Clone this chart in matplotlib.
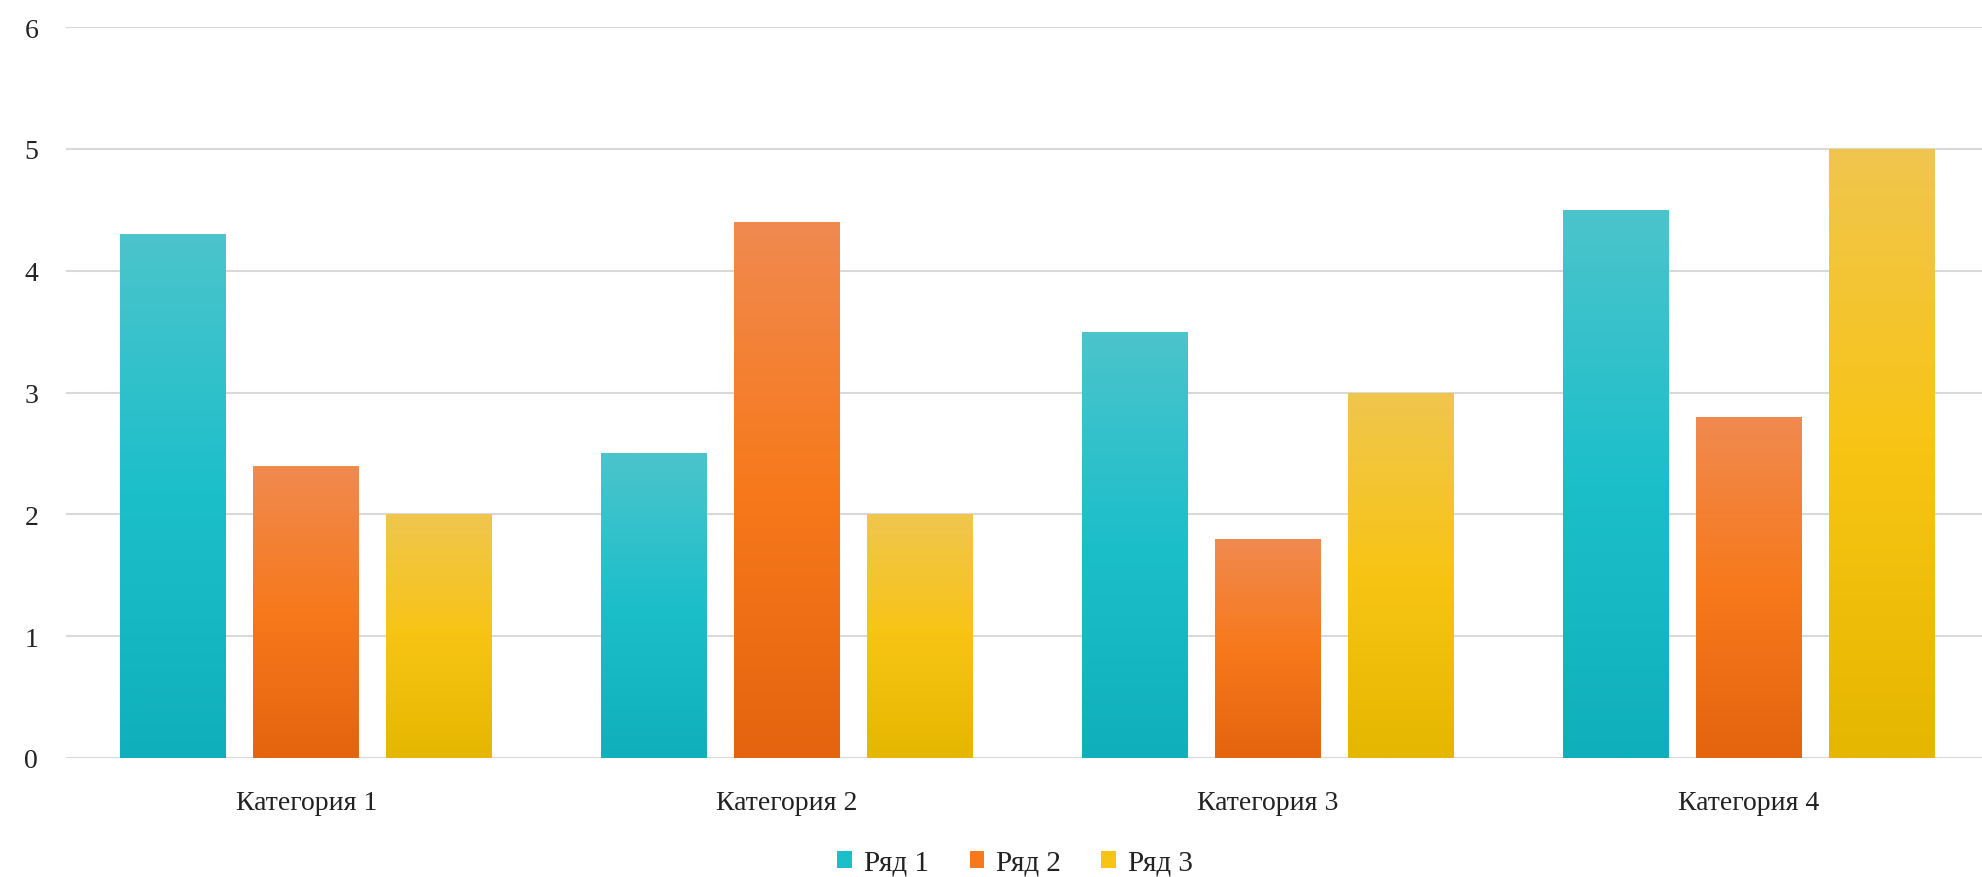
import numpy as np
import matplotlib
matplotlib.use("Agg")
from matplotlib import pyplot as plt
from matplotlib.colors import LinearSegmentedColormap
from matplotlib.patches import Patch

categories = ["Категория 1", "Категория 2", "Категория 3", "Категория 4"]
series_names = ["Ряд 1", "Ряд 2", "Ряд 3"]
row1 = [4.3, 2.5, 3.5, 4.5]
row2 = [2.4, 4.4, 1.8, 2.8]
row3 = [2.0, 2.0, 3.0, 5.0]

# top -> middle -> bottom colours of each gradient
gradients = [
    ["#4cc4cc", "#1bbfca", "#0fb0bb"],
    ["#f08a50", "#f7791b", "#e4640f"],
    ["#f0c64e", "#f8c414", "#e5b700"],
]
legend_colors = ["#1bbfca", "#f7791b", "#f8c414"]

plt.rcParams['font.family'] = ['Liberation Serif', 'DejaVu Serif']

W, H = 1982, 878
fig = plt.figure(figsize=(W / 100, H / 100), dpi=100)
ax_left, ax_right = 66, 1982
ax_top, ax_bottom = 28, 759
ax = fig.add_axes([ax_left / W, 1 - ax_bottom / H, (ax_right - ax_left) / W, (ax_bottom - ax_top) / H])

group_px = 480.7
x = np.arange(len(categories))
width = 0.22
offset = 0.2767

for i, vals in enumerate([row1, row2, row3]):
    bars = ax.bar(x + (i - 1) * offset, vals, width, color="none", edgecolor="none", zorder=2)
    cmap = LinearSegmentedColormap.from_list(f"g{i}", gradients[i][::-1])
    grad = np.linspace(0, 1, 256).reshape(-1, 1)
    for rect in bars:
        x0, y0 = rect.get_x(), rect.get_y()
        w, h = rect.get_width(), rect.get_height()
        im = ax.imshow(grad, cmap=cmap, origin="lower", aspect="auto",
                       extent=[x0, x0 + w, y0, y0 + h], zorder=2)
        im.set_clip_path(rect)

ax.set_xlim(-0.5, -0.5 + (ax_right - ax_left) / group_px)
ax.set_ylim(0, 6)

ax.set_yticks(range(7))
ax.yaxis.grid(True, color="#d9d9d9", linewidth=1.5)
ax.set_axisbelow(True)
ax.set_xticks(x)
ax.set_xticklabels(categories)
ax.tick_params(axis="both", length=0, labelsize=20, colors="#222222")
ax.tick_params(axis="y", pad=20)
ax.tick_params(axis="x", pad=23)
for s in ax.spines.values():
    s.set_visible(False)

handles = [Patch(facecolor=c, edgecolor="none") for c in legend_colors]
fig.legend(handles, series_names, loc="center", bbox_to_anchor=(1015 / W, 1 - 864 / H),
           ncol=3, frameon=False, fontsize=21, handlelength=0.5, handleheight=0.5,
           handletextpad=0.4, columnspacing=1.4, labelcolor="#222222")

fig.savefig("out.png", dpi=100)
